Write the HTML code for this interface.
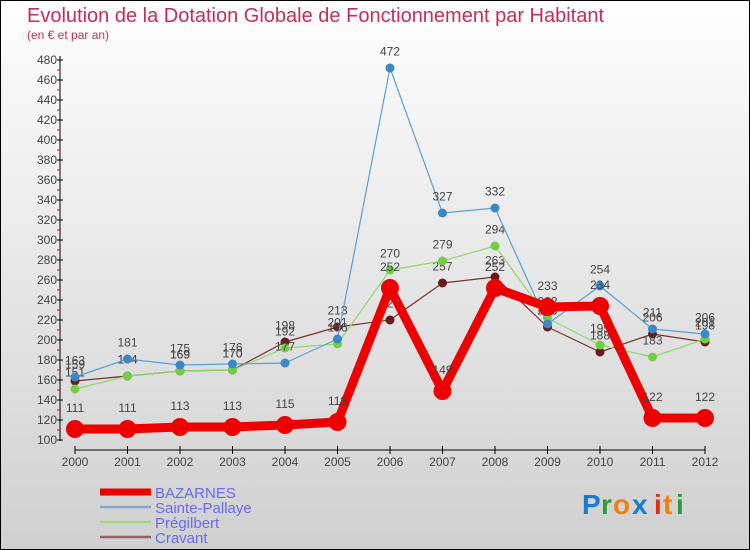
<!DOCTYPE html>
<html><head><meta charset="utf-8"><style>
body{margin:0}
#c{width:750px;height:550px;position:relative;overflow:hidden;font-family:"Liberation Sans",sans-serif}
</style></head><body>
<div id="c">
<svg id="s" width="750" height="550" xmlns="http://www.w3.org/2000/svg">
<defs><linearGradient id="bg" x1="0" y1="0" x2="0" y2="1"><stop offset="0" stop-color="#fefefe"/><stop offset="1" stop-color="#d0d0d0"/></linearGradient></defs>
<rect x="0.5" y="0.5" width="749" height="549" fill="url(#bg)" stroke="#000"/>
<text x="27" y="22" font-size="20" fill="#c0305a">Evolution de la Dotation Globale de Fonctionnement par Habitant</text>
<text x="27" y="39" font-size="12" fill="#c0305a">(en € et par an)</text>
<g id="axes"></g><g id="series"></g><g id="legend"></g>
<g font-size="28" font-weight="bold">
<text x="582" y="514" fill="#1a7ad4">P</text><text x="601" y="514" fill="#2a9a3a">r</text><text x="613" y="514" fill="#f08010">o</text><text x="632" y="514" fill="#1a7ad4">x</text><text x="654" y="514" fill="#e03010">i</text><text x="663" y="514" fill="#f08010">t</text><text x="676" y="514" fill="#2a9a3a">i</text></g>
</svg></div>
<script>
const years=["2000","2001","2002","2003","2004","2005","2006","2007","2008","2009","2010","2011","2012"];
const bazarnes=[111,111,113,113,115,118,252,149,252,233,234,122,122];
const saintePallaye=[163,181,175,176,177,201,472,327,332,216,254,211,206];
const pregilbert=[151,164,169,170,192,196,270,279,294,222,195,183,201];
const cravant=[159,164,169,170,198,213,220,257,263,213,188,206,198];
const yTicks=[100,120,140,160,180,200,220,240,260,280,300,320,340,360,380,400,420,440,460,480];
const NS="http://www.w3.org/2000/svg";
const X=i=>75+i*52.5, Y=v=>440-(v-100);
function mk(t,a,p){const e=document.createElementNS(NS,t);for(const k in a)e.setAttribute(k,a[k]);p.appendChild(e);return e;}
const ax=document.getElementById('axes');
mk('line',{x1:60,y1:56,x2:60,y2:441,stroke:'#000','stroke-width':1},ax);
mk('line',{x1:75,y1:450,x2:705,y2:450,stroke:'#000','stroke-width':1},ax);
yTicks.forEach(v=>{
 mk('line',{x1:57,y1:Y(v),x2:63,y2:Y(v),stroke:'#000'},ax);
 if(v<480) mk('line',{x1:57,y1:Y(v+10),x2:60,y2:Y(v+10),stroke:'#f00'},ax);
 const t=mk('text',{x:57,y:Y(v)+4,'font-size':12,fill:'#444','text-anchor':'end'},ax);
 
 
 t.textContent=v;
});
years.forEach((y,i)=>{
 mk('line',{x1:X(i),y1:446,x2:X(i),y2:454,stroke:'#000'},ax);
 const t=mk('text',{x:X(i),y:466,'font-size':12,fill:'#444','text-anchor':'middle'},ax);
 
 
 t.textContent=y;
});
const sg=document.getElementById('series');
const defs=[
 {n:'cravant',d:cravant,c:'#7a3030',m:'#6a1a1a',w:1.2,r:4.5},
 {n:'pregilbert',d:pregilbert,c:'#90d870',m:'#70d040',w:1.2,r:4.5},
 {n:'sainte-pallaye',d:saintePallaye,c:'#5aa0d8',m:'#3a88c8',w:1.2,r:4.5},
 {n:'bazarnes',d:bazarnes,c:'#ee0000',m:'#ee0000',w:9,r:9}
];
defs.forEach(s=>{
 const g=mk('g',{},sg);
 
 
 const p=mk('polyline',{points:s.d.map((v,i)=>X(i)+','+Y(v)).join(' '),fill:'none',stroke:s.c,'stroke-width':s.w,'stroke-linejoin':'round'},g);
 
 
 s.d.forEach((v,i)=>{
  const c=mk('circle',{cx:X(i),cy:Y(v),r:s.r,fill:s.m},g);
  
  
  const t=mk('text',{x:X(i),y:Y(v)-(s.r+8),'font-size':12,fill:'#444','text-anchor':'middle'},g);
  
  
  t.textContent=v;
 });
});
const lg=document.getElementById('legend');
const leg=[['BAZARNES','#ee0000',7],['Sainte-Pallaye','#80aad0',2.5],['Prégilbert','#a0d880',2.5],['Cravant','#9a6060',2.5]];
leg.forEach((l,i)=>{
 const y=492+i*15;
 const g=mk('g',{},lg);
 
 
 mk('line',{x1:100,y1:y,x2:151,y2:y,stroke:l[1],'stroke-width':l[2]},g);
 const t=mk('text',{x:155,y:y+6,'font-size':15,fill:'#6a6af0'},g);
 t.textContent=l[0];
});
</script>
</body></html>
